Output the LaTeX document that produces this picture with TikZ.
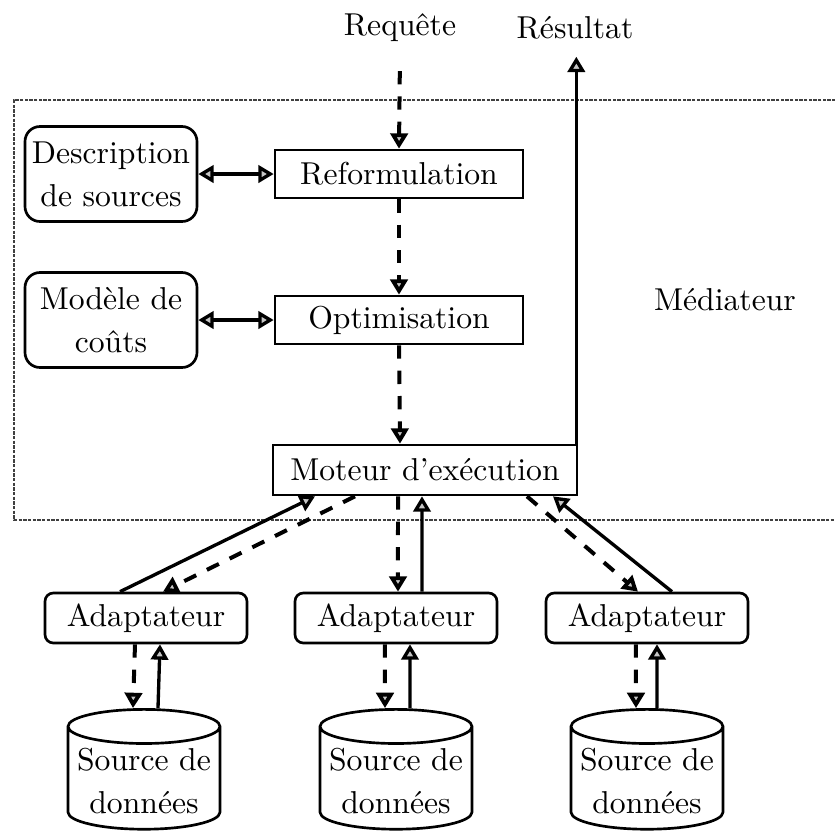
\documentclass[tikz,border=0pt]{standalone}
\usepackage{fontspec}
\usetikzlibrary{arrows.meta,shapes.geometric}

\newcommand{\dbline}[1]{\makebox[29pt]{#1}}

\tikzset{every picture/.style={line width=0.75pt}}
\tikzset{
  box/.style={draw, line width=0.8pt, minimum width=74.4pt, minimum height=14.4pt, inner sep=1pt},
  rbox/.style={draw, line width=0.8pt, rounded corners=4.5pt, align=center, minimum width=51.6pt, minimum height=28.5pt, inner sep=1pt},
  adbox/.style={draw, line width=0.8pt, rounded corners=2.5pt, minimum width=60.6pt, minimum height=15pt, inner sep=1pt},
  srcdb/.style={draw, line width=0.8pt, cylinder, shape border rotate=90, shape aspect=0.33, align=center, minimum width=45.6pt, inner sep=1pt},
  tip/.style={-{Triangle[length=4.6pt,width=5.2pt,fill=gray!45]}},
  twotip/.style={{Triangle[length=4.6pt,width=5.2pt,fill=gray!45]}-{Triangle[length=4.6pt,width=5.2pt,fill=gray!45]}},
  req/.style={tip, line width=1.2pt, dash pattern=on 4pt off 3.6pt},
  res/.style={tip, line width=1pt},
}

\begin{document}
\begin{tikzpicture}[x=0.3pt,y=0.3pt,yscale=-1,xscale=1,font=\fontsize{9.5}{12.9}\selectfont]
\useasboundingbox (0,0) rectangle (835,835);

%Shape: Mediateur frame
\draw [line width=0.45pt, black!75, dash pattern=on 1pt off 0.4pt]  (840,100) -- (14,100) -- (14,520) -- (840,520) ;

% Text Node
\node (requete) at (400,28) {Requête};
% Text Node
\node (resultat) at (575,28) {Résultat};
% Text Node
\node (mediateur) at (725,300) {Médiateur};

%Shape: Rectangle
\node [box] (reform) at (399,174) {Reformulation};
%Shape: Rectangle
\node [box] (optim) at (399,320) {Optimisation};
%Shape: Rectangle
\node [box, minimum width=91.2pt, minimum height=15pt] (moteur) at (425,470) {Moteur d’exécution};

%Rounded Rect
\node [rbox] (desc) at (111,174) {Description\\de sources};
%Rounded Rect
\node [rbox] (couts) at (111,320) {Modèle de\\coûts};

%Rounded Rect
\node [adbox] (adapt1) at (146,618) {Adaptateur};
\node [adbox] (adapt2) at (396,618) {Adaptateur};
\node [adbox] (adapt3) at (647,618) {Adaptateur};

%Shape: Can
\node [srcdb] (src1) at (144,781) {\dbline{Source de}\\\dbline{données}};
\node [srcdb] (src2) at (396,781) {\dbline{Source de}\\\dbline{données}};
\node [srcdb] (src3) at (647,781) {\dbline{Source de}\\\dbline{données}};

%Straight Lines
\coordinate (resout) at ([xshift=-0.6pt]moteur.north east);
\draw [req, shorten <=5pt] (requete.south) -- (reform.north) ;
\draw [req] (reform.south) -- (optim.north) ;
\draw [req] (optim.south) -- ([xshift=-7.5pt]moteur.north) ;
\draw [res, shorten >=1.5pt] (resout) -- (resout |- resultat.south) ;

%Straight Lines
\draw [twotip, line width=1pt] (desc.east) -- (reform.west) ;
\draw [twotip, line width=1pt] (couts.east) -- (optim.west) ;

%Straight Lines
\draw [res] ([xshift=-7.8pt]adapt1.north) -- ([xshift=-33pt]moteur.south) ;
\draw [req] ([xshift=-21pt]moteur.south) -- ([xshift=5.1pt]adapt1.north) ;
\draw [req] ([xshift=-8.1pt]moteur.south) -- ([xshift=0.6pt]adapt2.north) ;
\draw [res] ([xshift=7.8pt]adapt2.north) -- ([xshift=-0.9pt]moteur.south) ;
\draw [req] ([xshift=30.6pt]moteur.south) -- ([xshift=-2.7pt]adapt3.north) ;
\draw [res] ([xshift=7.5pt]adapt3.north) -- ([xshift=38.4pt]moteur.south) ;

%Straight Lines
\draw [req] ([xshift=-3.3pt]adapt1.south) -- ([xshift=-3.3pt]src1.north) ;
\draw [res] ([xshift=4.2pt]src1.north) -- ([xshift=4.2pt]adapt1.south) ;
\draw [req] ([xshift=-3.3pt]adapt2.south) -- ([xshift=-3.3pt]src2.north) ;
\draw [res] ([xshift=4.2pt]src2.north) -- ([xshift=4.2pt]adapt2.south) ;
\draw [req] ([xshift=-3.3pt]adapt3.south) -- ([xshift=-3.3pt]src3.north) ;
\draw [res] ([xshift=3pt]src3.north) -- ([xshift=3pt]adapt3.south) ;

\end{tikzpicture}
\end{document}
